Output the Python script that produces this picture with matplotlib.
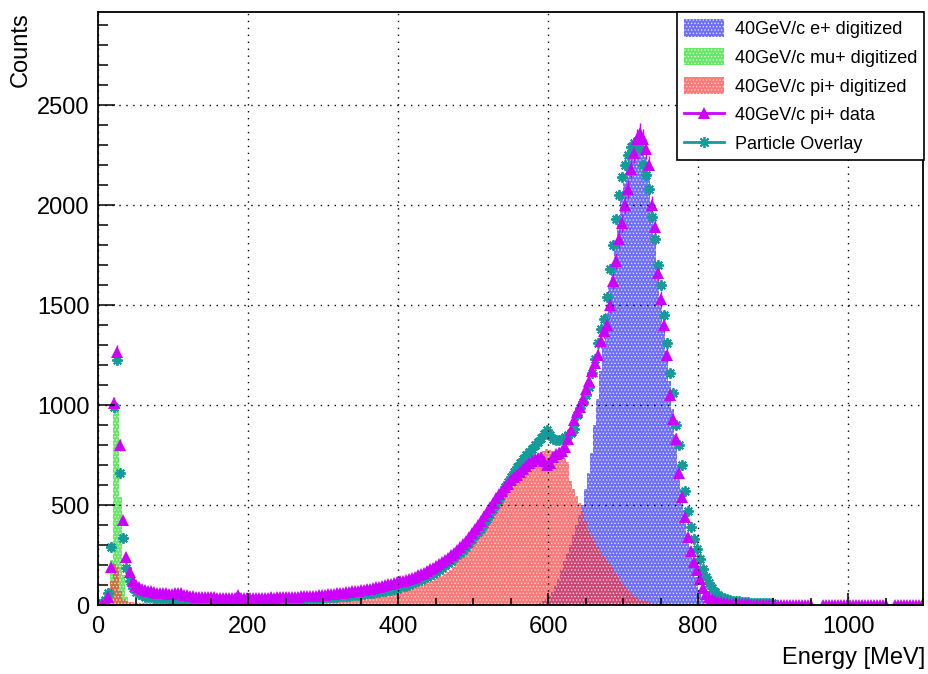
import numpy as np
import matplotlib.pyplot as plt
from matplotlib.lines import Line2D
from matplotlib.patches import Patch

plt.rcParams['font.family'] = ['Liberation Sans', 'DejaVu Sans']
plt.rcParams['hatch.linewidth'] = 0.6

# 4 MeV bins from 0 to 1100 MeV
bin_width = 4
energy_edges = np.arange(0, 1100 + bin_width, bin_width)
energy = energy_edges[:-1] + bin_width / 2
nan = np.nan

# 40GeV/c pi+ data (bins 0..274)
pi_data = [0, 2, 8, 40, 190, 1010, 1265, 800, 425, 240, 165, 120, 100, 90, 80, 75, 70, 68, 65, 62, 60, 60, 58, 55, 57,
           60, 62, 58, 50, 48, 45, 45, 42, 42, 40, 42, 40, 38, 40, 36, 35, 36, 35, 34, 35, 33, 50, 34, 33, 35,
           34, 35, 36, 35, 36, 37, 36, 38, 37, 38, 40, 38, 40, 41, 40, 42, 41, 43, 44, 45, 44, 46, 47, 48, 50,
           52, 53, 55, 56, 58, 60, 62, 63, 66, 68, 70, 72, 75, 77, 80, 82, 86, 88, 92, 96, 100, 103, 107, 110, 115,
           118, 122, 127, 132, 137, 142, 148, 155, 162, 170, 178, 186, 195, 205, 215, 225, 236, 248, 262, 276, 290, 305, 322, 340, 358,
           378, 398, 420, 443, 466, 490, 512, 533, 553, 572, 590, 607, 623, 638, 652, 667, 680, 695, 708, 720, 728, 735, 740, 720, 700,
           710, 740, 755, 760, 770, 790, 830, 875, 925, 965, 990, 1030, 1080, 1120, 1170, 1210, 1250, 1320, 1370, 1400, 1500, 1620, 1720, 1830, 1910,
           2000, 2080, 2180, 2260, 2330, 2360, 2330, 2280, 2200, 2000, 1890, 1660, 1530, 1400, 1250, 1050, 930, 830, 660, 540, 440, 340, 270, 215, 175,
           130, 85, 55, 38, 28, 22, 16, 13, 10, 8, 7, 6, 5, 4, 4, 3, 3, 2, 2, 2, 1, 1, 1, 1, 0,
           0, 0, 0, 0, 0, 0, 0, 0, 0, 0, 0, 0, 0, nan, nan, nan, 0, 0, 0, 0, 0, 0, 0, 0, 0,
           0, 0, 0, 0, 0, 0, 0, 0, 0, 0, 0, 0, 0, nan, nan, 0, 0, 0, 0, 0, 0, 0, 0, 0, 0]

# Particle overlay (bins 0..224, nothing drawn above 900 MeV)
overlay = [5, 10, 25, 60, 290, 990, 1225, 660, 335, 185, 120, 85, 65, 55, 48, 42, 40, 38, 36, 35, 34, 33, 33, 32, 32,
           31, 30, 30, 29, 29, 28, 28, 28, 27, 27, 27, 26, 26, 26, 26, 25, 25, 25, 25, 25, 25, 25, 25, 25, 25,
           25, 25, 26, 26, 26, 27, 27, 27, 28, 28, 28, 29, 29, 30, 30, 31, 31, 32, 32, 33, 33, 34, 35, 36, 37,
           38, 39, 40, 41, 42, 43, 45, 46, 47, 49, 50, 52, 54, 56, 58, 60, 62, 64, 66, 68, 71, 73, 76, 79, 82,
           90, 93, 97, 102, 108, 115, 120, 126, 133, 140, 148, 156, 165, 175, 186, 198, 210, 222, 235, 248, 262, 275, 292, 310, 330,
           350, 365, 380, 405, 430, 455, 480, 505, 530, 560, 590, 615, 640, 665, 688, 710, 730, 750, 765, 780, 800, 815, 835, 855, 875,
           850, 830, 825, 825, 830, 840, 850, 860, 880, 950, 985, 1015, 1050, 1090, 1160, 1230, 1310, 1380, 1430, 1540, 1680, 1800, 1930, 2050, 2140,
           2200, 2250, 2290, 2310, 2320, 2280, 2200, 2150, 2080, 1940, 1830, 1700, 1600, 1450, 1310, 1160, 1060, 900, 800, 700, 570, 470, 390, 330, 280,
           230, 180, 140, 110, 85, 65, 50, 40, 33, 28, 24, 22, 20, 18, 16, 14, 13, 12, 11, 10, 10, 9, 9, 8, 8]

# e+ digitized, bins starting at 576 MeV
e_start = 144
e_digi = [2, 4, 6, 10, 18, 30,
          45, 65, 95, 130, 175, 220, 260, 300, 350, 400, 450, 500, 580, 660, 760, 900, 1030, 1170, 1320, 1460, 1600, 1710, 1820, 1940, 2030,
          2110, 2190, 2250, 2290, 2310, 2320, 2300, 2240, 2130, 2000, 1850, 1700, 1540, 1380, 1270, 1120, 980, 850, 700, 580, 460, 360, 290, 210, 140,
          70, 30, 12, 5, 2, 1]

# mu+ digitized, bins starting at 0 MeV
mu_digi = [0, 0, 5, 20, 225, 1000, 1000, 540, 150, 40, 10, 5, 2]

# pi+ digitized, bins starting at 0 MeV
pi_digi = [0, 0, 3, 20, 120, 210, 190, 70, 30, 20, 15, 13, 12, 12, 11, 11, 10, 10, 11, 10, 10, 11, 10, 10, 10,
           11, 10, 10, 11, 10, 10, 10, 11, 10, 10, 11, 10, 11, 10, 11, 11, 10, 11, 11, 10, 11, 11, 12, 11, 12,
           12, 11, 12, 12, 12, 13, 12, 13, 13, 13, 13, 14, 13, 14, 14, 14, 14, 15, 14, 15, 15, 15, 15, 16, 15,
           15, 16, 17, 18, 19, 20, 21, 22, 24, 25, 27, 28, 30, 32, 34, 36, 38, 40, 42, 45, 48, 51, 54, 57, 60,
           63, 67, 71, 75, 80, 85, 90, 96, 102, 108, 115, 122, 130, 138, 147, 156, 166, 177, 190, 215, 235, 260, 285, 310, 335,
           360, 380, 400, 425, 450, 475, 500, 520, 540, 560, 580, 595, 610, 620, 635, 645, 655, 680, 700, 720, 735, 745, 760, 770, 780,
           775, 770, 760, 750, 740, 730, 715, 620, 580, 545, 510, 470, 420, 380, 350, 320, 290, 265, 245, 225, 210, 190, 160, 135, 115,
           100, 82, 65, 50, 38, 30, 24, 18, 14, 10, 8, 6, 5, 4, 3, 2, 1, 1, 0]

n_bins = len(energy)
e_full = np.zeros(n_bins)
e_full[e_start:e_start + len(e_digi)] = e_digi
mu_full = np.zeros(n_bins)
mu_full[:len(mu_digi)] = mu_digi
pi_full = np.zeros(n_bins)
pi_full[:len(pi_digi)] = pi_digi
data_full = np.array(pi_data, dtype=float)
ov_full = np.full(n_bins, np.nan)
ov_full[:len(overlay)] = overlay

blue = '#3f3fff'
green = '#33e033'
red = '#ff3030'
magenta = '#cc00ff'
teal = '#169a9a'
star = (8, 2, 0)

fig = plt.figure(figsize=(9.29, 6.74), dpi=100)
ax = fig.add_axes([98 / 929, 69 / 674, 825 / 929, 593 / 674])

ax.bar(energy, e_full, width=bin_width, color=blue, alpha=0.75, linewidth=0, edgecolor='white', hatch='.....')
ax.bar(energy, mu_full, width=bin_width, color=green, alpha=0.75, linewidth=0, edgecolor='white', hatch='.....')
ax.bar(energy, pi_full, width=bin_width, color=red, alpha=0.65, linewidth=0, edgecolor='white', hatch='.....')

ax.errorbar(energy, data_full, yerr=np.sqrt(np.nan_to_num(data_full)), fmt='^', color=magenta, ms=8,
            mew=0, elinewidth=1, capsize=0)
ax.plot(energy, ov_full, ls='none', marker=star, color=teal, ms=7.5, mew=1.4)

ax.set_xlim(0, 1100)
ax.set_ylim(0, 2965)
ax.set_xticks(np.arange(0, 1001, 200))
ax.set_xticks(np.arange(0, 1101, 50), minor=True)
ax.set_yticks(np.arange(0, 2501, 500))
ax.set_yticks(np.arange(0, 2901, 100), minor=True)
ax.tick_params(which='both', direction='in', top=False, right=False, labelsize=17, width=1.1)
ax.tick_params(axis='x', which='major', length=9, pad=8)
ax.tick_params(axis='x', which='minor', length=5)
ax.tick_params(axis='y', which='major', length=12, pad=6)
ax.tick_params(axis='y', which='minor', length=7)
ax.grid(True, which='major', color='black', ls=(0, (1, 4)), lw=1)
ax.set_axisbelow(False)
for s in ax.spines.values():
    s.set_linewidth(1.3)

ax.set_xlabel('Energy [MeV]', loc='right', fontsize=17)
ax.xaxis.set_label_coords(1.003, -0.07)
ax.set_ylabel('Counts', loc='top', fontsize=17)
ax.yaxis.set_label_coords(-0.08, 1.0)

handles = [Patch(facecolor=blue, alpha=0.75, edgecolor='white', lw=0, hatch='.....'),
           Patch(facecolor=green, alpha=0.75, edgecolor='white', lw=0, hatch='.....'),
           Patch(facecolor=red, alpha=0.65, edgecolor='white', lw=0, hatch='.....'),
           Line2D([0], [0], color=magenta, lw=2, marker='^', ms=9, mew=0),
           Line2D([0], [0], color=teal, lw=2, marker=star, ms=8, mew=1.3)]
labels = ['40GeV/c e+ digitized', '40GeV/c mu+ digitized', '40GeV/c pi+ digitized',
          '40GeV/c pi+ data', 'Particle Overlay']
leg = ax.legend(handles, labels, loc='upper right', bbox_to_anchor=(1.0015, 1.0), borderaxespad=0,
                fancybox=False, edgecolor='black', framealpha=1, fontsize=13, handlelength=2.2,
                handleheight=1.1, handletextpad=0.6, labelspacing=0.55, borderpad=0.4)
leg.get_frame().set_linewidth(1.2)

fig.savefig('out.png', dpi=100)
